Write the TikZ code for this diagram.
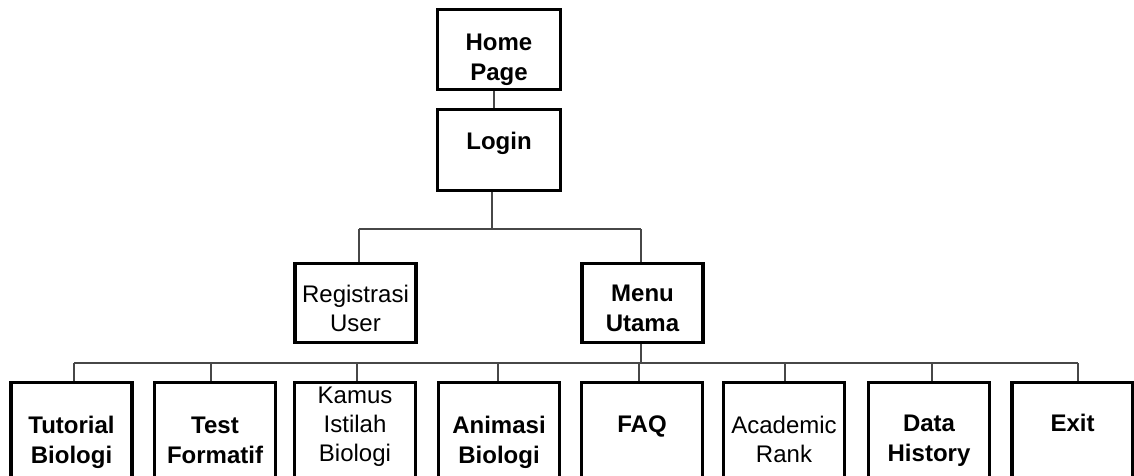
\documentclass[tikz,border=0pt]{standalone}
\usepackage{fontspec}
\setmainfont{Liberation Sans}
\begin{document}
\begin{tikzpicture}[x=1pt,y=-1pt,
  box/.style={draw=black,line width=3.4pt,minimum width=#1,inner sep=0pt,fill=white},
  box/.default=121pt,
  hi/.style={minimum height=79.6pt},
  lo/.style={minimum height=130pt},
  bt/.style={font=\fontsize{24}{30}\selectfont\bfseries,align=center,anchor=base,inner sep=0pt},
  rt/.style={font=\fontsize{24}{29}\selectfont,align=center,anchor=base,inner sep=0pt},
  conn/.style={draw=black!72,line width=2pt}]
\clip (0,0) rectangle (1134,475);
\fill[white] (0,0) rectangle (1134,475);
% top boxes
\node[box=122.6pt,minimum height=79.6pt] (home) at (499,49.5) {};
\node[box=122.6pt,minimum height=80.6pt] (login) at (499,150) {};
\node[box,minimum height=78.6pt] (reg) at (355.5,303) {};
\node[box,minimum height=78.6pt] (menu) at (642.5,303) {};
% bottom boxes
\node[box,lo,anchor=north] (tut) at (71.5,380.7) {};
\node[box,lo,anchor=north] (test) at (215,380.7) {};
\node[box,lo,anchor=north] (kamus) at (355,380.7) {};
\node[box,lo,anchor=north] (anim) at (499,380.7) {};
\node[box,lo,anchor=north] (faq) at (642,380.7) {};
\node[box,lo,anchor=north] (acad) at (784,380.7) {};
\node[box,lo,anchor=north] (data) at (929,380.7) {};
\node[box,lo,anchor=north] (exit) at (1072.5,380.7) {};
% texts
\node[bt] (homet) at (499,80) {Home\\Page};
\node[bt] (logint) at (499,149) {Login};
\node[rt] (regt) at (355.5,331.7) {Registrasi\\User};
\node[bt] (menut) at (642.5,331.7) {Menu\\Utama};
\node[bt] (tutt) at (71.5,463) {Tutorial\\Biologi};
\node[bt] (testt) at (215,463) {Test\\Formatif};
\node[rt] (kamust) at (355,461.7) {Kamus\\Istilah\\Biologi};
\node[bt] (animt) at (499,463) {Animasi\\Biologi};
\node[bt] (faqt) at (642,432.7) {FAQ};
\node[rt] (acadt) at (784,462.7) {Academic\\Rank};
\node[bt] (datat) at (929,461.7) {Data\\History};
\node[bt] (exitt) at (1072.5,431.7) {Exit};
% connectors
\coordinate (busA) at (0,229);
\coordinate (busB) at (0,363);
\draw[conn] ([xshift=-5pt]home.south) -- ([xshift=-5pt]login.north);
\draw[conn] ([xshift=-7pt]login.south) -- ([xshift=-7pt]login.south |- busA);
\draw[conn] ([xshift=3.5pt]reg.north |- busA) -- ([xshift=-1.5pt]menu.north |- busA);
\draw[conn] ([xshift=3.5pt]reg.north) -- ([xshift=3.5pt]reg.north |- busA);
\draw[conn] ([xshift=-1.5pt]menu.north) -- ([xshift=-1.5pt]menu.north |- busA);
\draw[conn] ([xshift=-1.5pt]menu.south) -- ([xshift=-1.5pt]menu.south |- busB);
\draw[conn] ([xshift=2.5pt]tut.north |- busB) -- ([xshift=5.5pt]exit.north |- busB);
\foreach \n/\d in {tut/2.5,test/-4,kamus/2,anim/-1,faq/-3,acad/1,data/3,exit/5.5}{
  \draw[conn] ([xshift=\d pt]\n.north) -- ([xshift=\d pt]\n.north |- busB);
}
\end{tikzpicture}
\end{document}
